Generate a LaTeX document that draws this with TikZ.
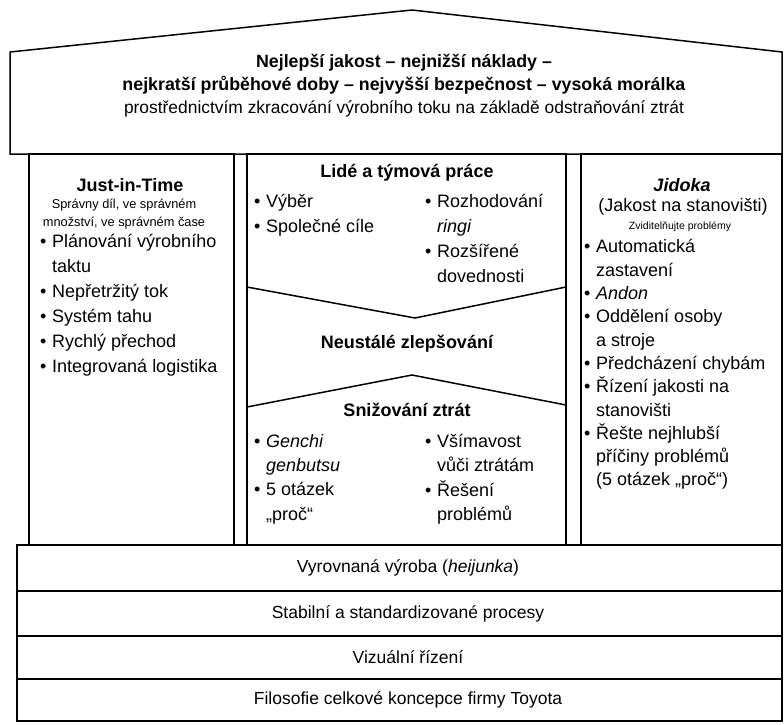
\documentclass[tikz,border=0pt]{standalone}
\usepackage{fontspec}
\setmainfont{Liberation Sans}
\newcommand{\bul}{\makebox[12pt][l]{\textbullet}}
\newcommand{\ind}{\hspace*{12pt}}
\tikzset{
	block/.style={draw, line width=1.5pt},
	outline/.style={draw, line width=1.5pt, line join=miter},
	heading/.style={font=\bfseries\fontsize{18}{22}\selectfont},
	bullets/.style={font=\fontsize{18}{25}\selectfont, align=left, anchor=north west, inner sep=0pt},
	floor/.style={font=\fontsize{17.5}{21}\selectfont}
}
\begin{document}
\begin{tikzpicture}[x=1pt, y=-1pt]
	\useasboundingbox (0,0) rectangle (784,724);
	
	% roof
	\draw[outline] (10,154) -- (10,52) -- (412,10) -- (782,52) -- (782,154) -- cycle;
	\node[align=center, font=\fontsize{17.8}{23}\selectfont] (goals) at (404,85.5) {\textbf{Nejlepší jakost – nejnižší náklady –}\\ \textbf{nejkratší průběhové doby – nejvyšší bezpečnost – vysoká morálka}\\ \fontsize{17.4}{23}\selectfont prostřednictvím zkracování výrobního toku na základě odstraňování ztrát};
	
	% pillars
	\node[block, minimum width=205pt, minimum height=391pt] (jit) at (131.5,349.5) {};
	\node[block, minimum width=319pt, minimum height=391pt] (middle) at (406.5,349.5) {};
	\node[block, minimum width=201pt, minimum height=391pt] (jidoka) at (681.5,349.5) {};
	
	% center arrows
	\draw[outline] (247,287) -- (415,318) -- (566,287);
	\draw[outline] (247,407) -- (412,375) -- (566,405);
	
	% foundation
	\node[block, minimum width=765pt, minimum height=46pt] (level) at (399.5,568) {};
	\node[block, minimum width=765pt, minimum height=45pt] (stable) at (399.5,613.5) {};
	\node[block, minimum width=765pt, minimum height=43pt] (visual) at (399.5,657.5) {};
	\node[block, minimum width=765pt, minimum height=42pt] (philosophy) at (399.5,700) {};
	\node[floor] at (408,568) {Vyrovnaná výroba (\textit{heijunka})};
	\node[floor] at (408,613.5) {Stabilní a standardizované procesy};
	\node[floor] at (408,657.5) {Vizuální řízení};
	\node[floor] at (408,700) {Filosofie celkové koncepce firmy Toyota};
	
	% left pillar
	\node[heading] (jittitle) at (130,185) {Just-in-Time};
	\node[align=center, font=\fontsize{12.8}{18}\selectfont] (jitnote) at (124,214) {Správny díl, ve správném\\ množství, ve správném čase};
	\node[bullets] (jitlist) at (40,234.5) {\bul Plánování výrobního\\ \ind taktu\\ \bul Nepřetržitý tok\\ \bul Systém tahu\\ \bul Rychlý přechod\\ \bul Integrovaná logistika};
	
	% middle
	\node[heading] (teamtitle) at (407,173) {Lidé a týmová práce};
	\node[bullets] (teamleft) at (254,194.5) {\bul Výběr\\ \bul Společné cíle};
	\node[bullets] (teamright) at (425,194.5) {\bul Rozhodování\\ \ind\textit{ringi}\\ \bul Rozšířené\\ \ind dovednosti};
	\node[heading] (kaizen) at (407,344) {Neustálé zlepšování};
	\node[heading] (wastetitle) at (407,410) {Snižování ztrát};
	\node[bullets, font=\fontsize{18}{24.3}\selectfont] (wasteleft) at (254,434) {\bul\textit{Genchi}\\ \ind\textit{genbutsu}\\ \bul 5 otázek\\ \ind„proč“};
	\node[bullets, font=\fontsize{18}{24.3}\selectfont] (wasteright) at (425,434) {\bul Všímavost\\ \ind vůči ztrátám\\ \bul Řešení\\ \ind problémů};
	
	% right pillar
	\node[heading] (jidtitle) at (682,185) {\textit{Jidoka}};
	\node[font=\fontsize{18}{22}\selectfont] (jidsub) at (683,207) {(Jakost na stanovišti)};
	\node[font=\fontsize{10.5}{12}\selectfont] (jidnote) at (680,227) {Zviditelňujte problémy};
	\node[bullets, font=\fontsize{18}{23.3}\selectfont] (jidlist) at (584,239.5) {\bul Automatická\\ \ind zastavení\\ \bul\textit{Andon}\\ \bul Oddělení osoby\\ \ind a stroje\\ \bul Předcházení chybám\\ \bul Řízení jakosti na\\ \ind stanovišti\\ \bul Řešte nejhlubší\\ \ind příčiny problémů\\ \ind(5 otázek „proč“)};
\end{tikzpicture}
\end{document}
